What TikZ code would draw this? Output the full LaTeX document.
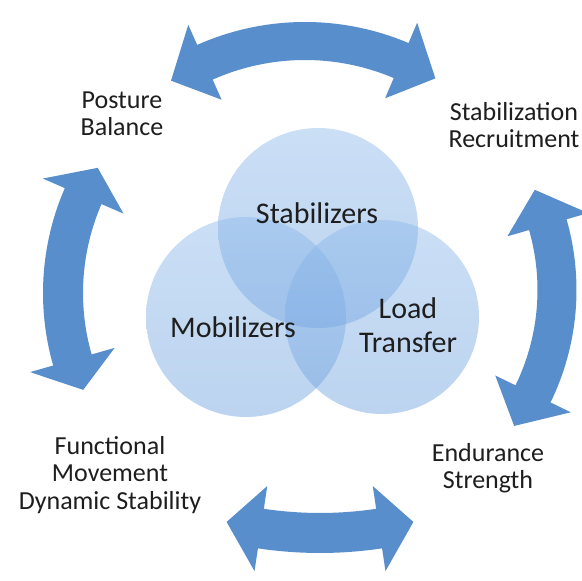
\documentclass[tikz,border=0pt]{standalone}
\usepackage{fontspec}
\setmainfont{Carlito}
\usepackage{tikz}
\usetikzlibrary{positioning}
\usepackage{xcolor}

\definecolor{arrowblue}{RGB}{88,142,204}
\definecolor{circtop}{RGB}{140,185,235}
\definecolor{circbot}{RGB}{108,160,222}
\definecolor{labelgray}{RGB}{30,30,30}

% curved double arrow: cx, cy, R, half band, half head, start angle, end angle, head angle
\newcommand{\dblarc}[8]{%
\fill[arrowblue, shift={(#1,#2)}] (#6:#3) -- ({#6+#8}:{#3-#5}) -- ({#6+#8}:{#3-#4})
  arc[start angle={#6+#8}, end angle={#7-#8}, radius={#3-#4}]
  -- ({#7-#8}:{#3-#5}) -- (#7:#3) -- ({#7-#8}:{#3+#5}) -- ({#7-#8}:{#3+#4})
  arc[start angle={#7-#8}, end angle={#6+#8}, radius={#3+#4}]
  -- ({#6+#8}:{#3+#5}) -- cycle;}

\tikzset{
  venn/.style={top color=circtop, bottom color=circbot, opacity=0.45},
  outer/.style={align=center, inner sep=0pt, text=labelgray, font=\fontsize{26}{27.5}\selectfont},
  inner/.style={align=center, inner sep=0pt, text=labelgray, font=\fontsize{30}{34}\selectfont}
}

\begin{document}
\begin{tikzpicture}[x=1pt, y=1pt]

\clip (0,0) rectangle (582,581);
\fill[white] (0,0) rectangle (582,581);

% the three circles
\shade[venn] (318,353) circle [radius=100];
\shade[venn] (246,264) circle [radius=100];
\shade[venn] (382,264) circle [radius=97];

\node[inner] (stab) at (317,368) {Stabilizers};
\node[inner] (mob) at (233,254) {Mobilizers};
\node[inner] (load) at (408,256) {Load\\Transfer};

% the four double arrows
\dblarc{305}{294}{246}{19}{41}{58}{123}{9}
\dblarc{320}{291}{237}{19.5}{42}{-35}{25}{9}
\dblarc{320}{448}{400}{20}{43}{-103.5}{-76.5}{5}
\dblarc{306}{288}{243}{20}{44}{149}{203.5}{7.5}

\node[outer] (posture) at (122,467) {Posture\\Balance};
\node[outer] (recruit) at (514,456) {Stabilization\\Recruitment};
\node[outer] (endur) at (488,113) {Endurance\\Strength};
\node[outer] (funct) at (110,106) {Functional\\Movement\\Dynamic Stability};

\end{tikzpicture}
\end{document}
